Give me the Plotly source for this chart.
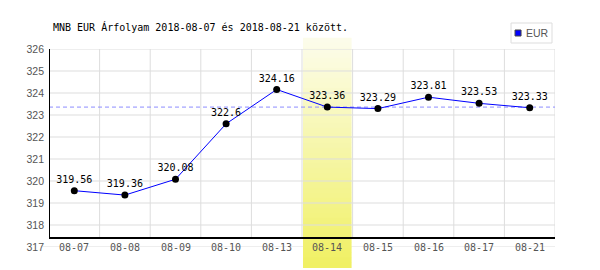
import plotly.graph_objects as go

# ---- data ----
dates = ["08-07", "08-08", "08-09", "08-10", "08-13", "08-14", "08-15", "08-16", "08-17", "08-21"]
eur_rates = [319.56, 319.36, 320.08, 322.6, 324.16, 323.36, 323.29, 323.81, 323.53, 323.33]
value_labels = ["319.56", "319.36", "320.08", "322.6", "324.16", "323.36", "323.29", "323.81", "323.53", "323.33"]
y_ticks = [317, 318, 319, 320, 321, 322, 323, 324, 325, 326]
highlight_date = "08-14"
reference_rate = 323.36
series_name = "EUR"
title_text = "MNB EUR Árfolyam 2018-08-07 és 2018-08-21 között."

W, H = 600, 270
L, R, T, B = 48.5, 45, 49, 23
PW, PH = W - L - R, H - T - B
Y0, Y1 = y_ticks[0], y_ticks[-1]
axis_floor = 317.41  # where the black bottom axis line sits

def px_x(p):
    return (p - L) / PW

def px_y(p):
    return (H - B - p) / PH

GRID = "#dddddd"
LABEL = "#555555"
MONO = "DejaVu Sans Mono"

fig = go.Figure()
fig.add_trace(go.Scatter(
    x=dates, y=eur_rates, mode="lines+markers+text",
    text=value_labels, textposition="top center",
    textfont=dict(family=MONO, size=10, color="#000000"),
    line=dict(color="#0000ff", width=1),
    marker=dict(color="#000000", size=7),
    showlegend=False, cliponaxis=False, name=series_name,
))

shapes = []
n = len(dates)
# horizontal grid lines
for v in y_ticks:
    if v == Y0:
        shapes.append(dict(type="line", xref="paper", yref="y", x0=px_x(42), x1=1, y0=v, y1=v,
                           line=dict(color=GRID, width=1), layer="below"))
    else:
        shapes.append(dict(type="line", xref="x", yref="y", x0=-0.5, x1=n - 0.5, y0=v, y1=v,
                           line=dict(color=GRID, width=1), layer="below"))
# vertical grid lines
for i in range(1, n + 1):
    shapes.append(dict(type="line", xref="x", yref="y", x0=i - 0.5, x1=i - 0.5, y0=axis_floor, y1=Y1,
                       line=dict(color=GRID, width=1), layer="below"))
# reference dashed line
shapes.append(dict(type="line", xref="x", yref="y", x0=-0.5, x1=n - 0.5, y0=reference_rate, y1=reference_rate,
                   line=dict(color="#8c8cff", width=1, dash="4px,3px"), layer="below"))
# highlight band with vertical gradient
hi = dates.index(highlight_date)
top_p, bot_p = 38, 268
steps = 46
c_top = (252, 252, 236)
c_bot = (240, 240, 98)
for s in range(steps):
    p0 = top_p + (bot_p - top_p) * s / steps
    p1 = top_p + (bot_p - top_p) * (s + 1) / steps
    t = (s + 0.5) / steps
    c = tuple(round(c_top[k] + (c_bot[k] - c_top[k]) * t) for k in range(3))
    shapes.append(dict(type="rect", xref="x", yref="paper", x0=hi - 0.5 + 0.02, x1=hi + 0.5 - 0.02,
                       y0=px_y(p1), y1=px_y(p0) + 0.001, line=dict(width=0),
                       fillcolor="rgb(%d,%d,%d)" % c, layer="below"))
# black axis lines
shapes.append(dict(type="line", xref="x", yref="y", x0=-0.5, x1=n - 0.5, y0=axis_floor, y1=axis_floor,
                   line=dict(color="#000000", width=2), layer="below"))
shapes.append(dict(type="line", xref="x", yref="y", x0=-0.5, x1=-0.5, y0=axis_floor, y1=Y1,
                   line=dict(color="#000000", width=2), layer="below"))
# legend box and swatch
shapes.append(dict(type="rect", xref="paper", yref="paper", x0=px_x(511), x1=px_x(552),
                   y0=px_y(43), y1=px_y(23), line=dict(color=GRID, width=1), fillcolor="#ffffff"))
shapes.append(dict(type="rect", xref="paper", yref="paper", x0=px_x(515), x1=px_x(521),
                   y0=px_y(36), y1=px_y(30), line=dict(color="#444444", width=1), fillcolor="#0000ff"))

annotations = []
for d in dates:
    annotations.append(dict(x=d, y=Y0, xref="x", yref="y", text=d, showarrow=False,
                            xanchor="center", yanchor="middle",
                            font=dict(family=MONO, size=10, color=LABEL)))
annotations.append(dict(x=px_x(524), y=px_y(33), xref="paper", yref="paper", text=series_name,
                        showarrow=False, xanchor="left", yanchor="middle",
                        font=dict(family="Liberation Sans", size=10.5, color=LABEL)))

fig.update_layout(
    width=W, height=H,
    margin=dict(l=L, r=R, t=T, b=B, pad=0),
    paper_bgcolor="#ffffff", plot_bgcolor="rgba(0,0,0,0)",
    title=dict(text=title_text, x=53 / W, xref="container", xanchor="left",
               y=1 - 27 / H, yref="container", yanchor="middle",
               font=dict(family=MONO, size=10, color="#000000")),
    xaxis=dict(type="category", range=[-0.5, n - 0.5], showgrid=False, zeroline=False,
               showticklabels=False, showline=False, fixedrange=True),
    yaxis=dict(range=[Y0, Y1], tickvals=y_ticks, ticktext=[str(v) for v in y_ticks],
               showgrid=False, zeroline=False, showline=False, ticks="",
               ticklabelstandoff=4,
               tickfont=dict(family="Liberation Sans", size=10.5, color=LABEL), fixedrange=True),
    shapes=shapes, annotations=annotations, showlegend=False,
)

fig.write_html("out.html")
